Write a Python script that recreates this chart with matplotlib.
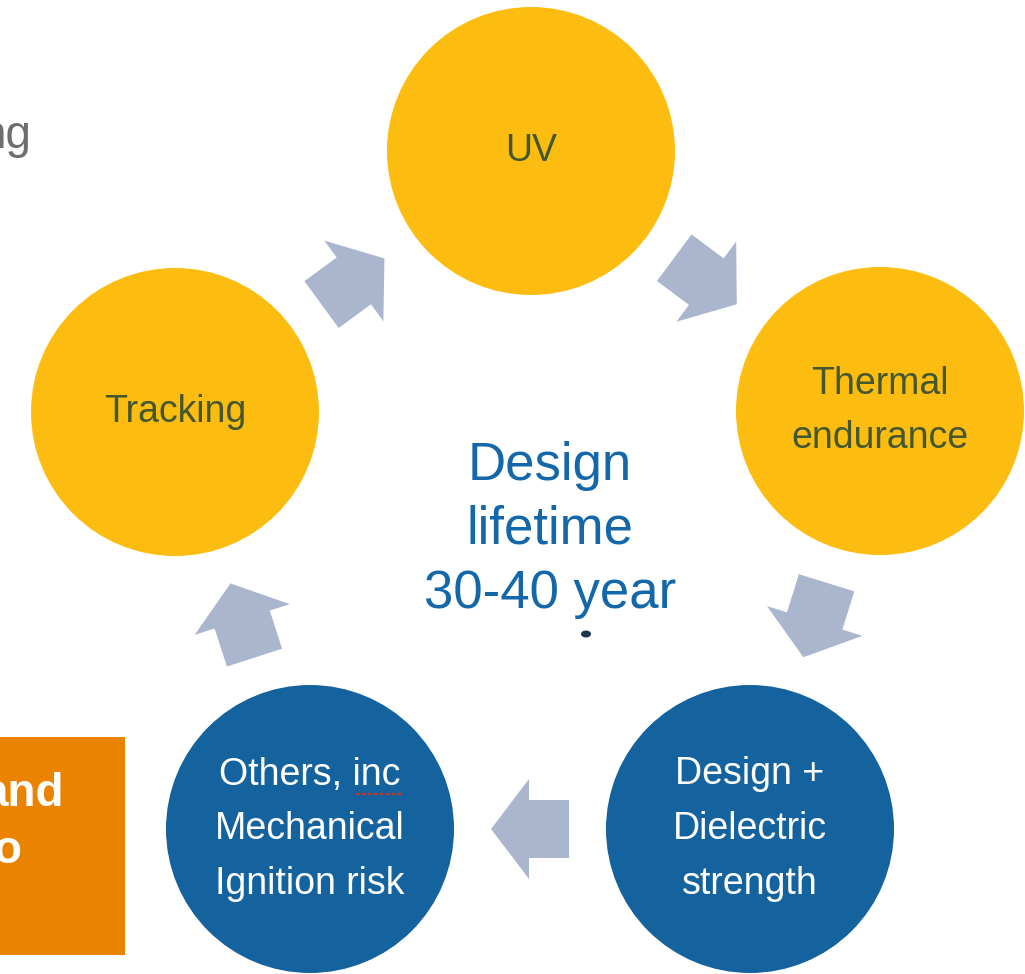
"""
Design lifetime cycle diagram: five factors around a central label

"""
import numpy as np
import matplotlib
import matplotlib.pyplot as plt
from matplotlib.patches import Circle, FancyArrow, Rectangle, Ellipse

matplotlib.use("Agg")

# Labels of the five circles, in cycle order (clockwise from the top)
labels = [
    ["UV"],
    ["Thermal", "endurance"],
    ["Design +", "Dielectric", "strength"],
    ["Others, inc", "Mechanical", "Ignition risk"],
    ["Tracking"],
]
kinds = ["yellow", "yellow", "blue", "blue", "yellow"]
centre_lines = ["Design", "lifetime", "30-40 year"]
box_lines = ["and", "o"]
corner_word = "ng"

YELLOW = "#FDBD10"
BLUE = "#14629E"
ARROW = "#A9B6CE"
DARK_TEXT = "#44572F"
CENTRE_BLUE = "#1467A8"
ORANGE = "#E98300"
FONT = ["Liberation Sans", "DejaVu Sans"]


def main():
    fig = plt.figure(figsize=(10.25, 9.74), dpi=100)
    ax = fig.add_axes([0, 0, 1, 1])
    ax.set_xlim(0, 1025)
    ax.set_ylim(974, 0)
    ax.set_aspect("equal")
    ax.set_axis_off()

    # Circle centres in pixel coordinates (layout, not data)
    centres = [(531, 151), (880, 411), (750, 829), (310, 829), (175, 412)]
    radius = 144
    line_step = 54.5

    for (cx, cy), lines, kind in zip(centres, labels, kinds):
        ax.add_patch(
            Circle((cx, cy), radius, facecolor=YELLOW if kind == "yellow" else BLUE,
                   edgecolor="none", zorder=2)
        )
        colour = DARK_TEXT if kind == "yellow" else "white"
        y0 = cy - line_step * (len(lines) - 1) / 2
        for i, line in enumerate(lines):
            ax.text(cx, y0 + i * line_step, line, ha="center", va="center",
                    fontsize=27, color=colour, family=FONT, zorder=3)

    # Red spell-check underline under "inc"
    ax.plot([356, 402], [794, 794], color="#C0392B", lw=1.6, ls=(0, (1.5, 1.2)),
            zorder=4)

    # Block arrows half way between neighbouring circles
    n = len(centres)
    for i in range(n):
        (x1, y1), (x2, y2) = centres[i], centres[(i + 1) % n]
        mx, my = (x1 + x2) / 2, (y1 + y2) / 2
        d = np.array([x2 - x1, y2 - y1], dtype=float)
        d /= np.hypot(*d)
        length = 78
        sx, sy = mx - d[0] * length / 2, my - d[1] * length / 2
        ax.add_patch(
            FancyArrow(sx, sy, d[0] * length, d[1] * length, width=58,
                       head_width=100, head_length=38, length_includes_head=True,
                       facecolor=ARROW, edgecolor="none", zorder=1)
        )

    # Central label
    for i, line in enumerate(centre_lines):
        ax.text(550, 466 + i * 64, line, ha="center", va="center", fontsize=38,
                color=CENTRE_BLUE, family=FONT, zorder=3)
    ax.add_patch(Ellipse((586, 634), 10, 7, facecolor="#1B3550", edgecolor="none",
                         zorder=3))

    # Cropped leftovers of the slide
    ax.text(31, 148, corner_word, ha="right", va="baseline", fontsize=33,
            color="#6E6E6E", family=FONT)
    ax.add_patch(Rectangle((0, 737), 125, 218, facecolor=ORANGE, edgecolor="none"))
    ax.text(64, 806, box_lines[0], ha="right", va="baseline", fontsize=33,
            weight="bold", color="white", family=FONT)
    ax.text(21, 863, box_lines[1], ha="right", va="baseline", fontsize=33,
            weight="bold", color="white", family=FONT)

    fig.savefig("out.png", dpi=100, facecolor="white")


if __name__ == "__main__":
    main()
